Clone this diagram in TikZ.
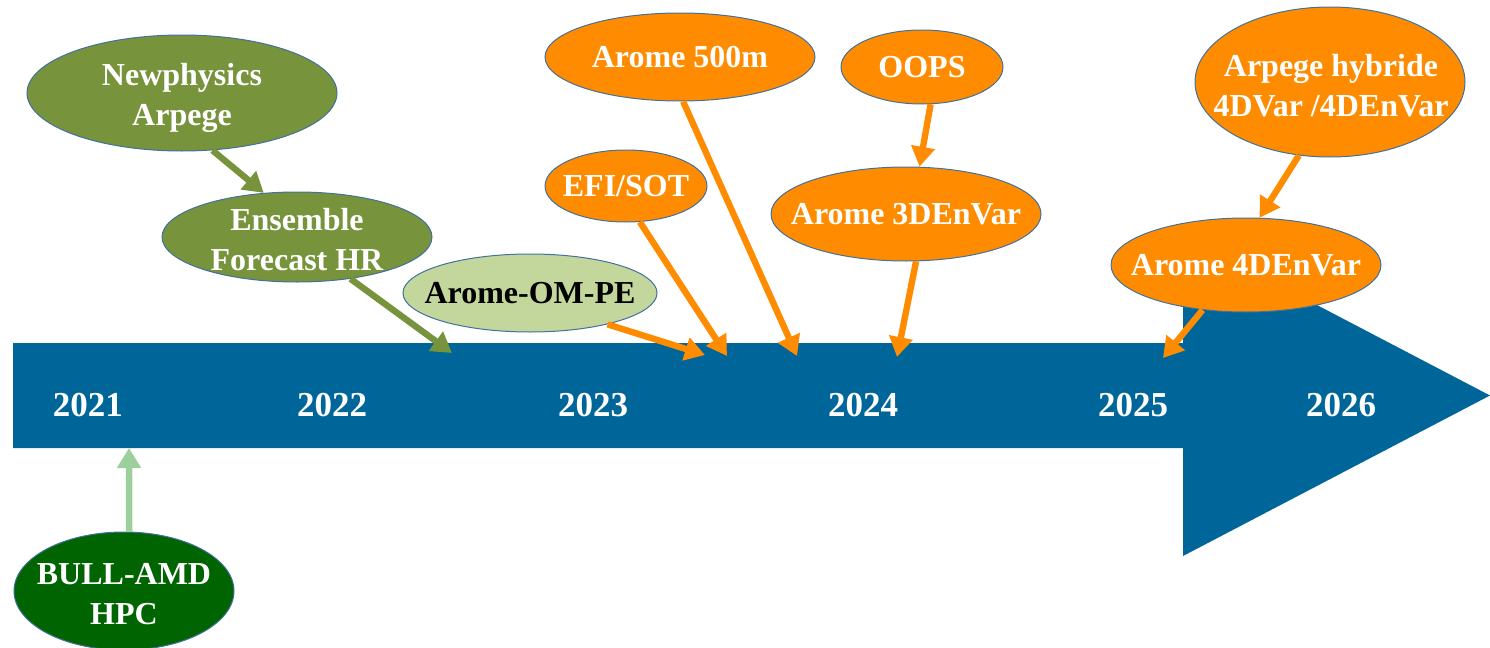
\documentclass[tikz,border=0pt]{standalone}
\usepackage{fontspec}
\setmainfont{Liberation Serif}
\usetikzlibrary{arrows.meta,shapes.geometric}
\definecolor{olive}{HTML}{77933C}
\definecolor{lightol}{HTML}{C3D69B}
\definecolor{dkgreen}{HTML}{006400}
\definecolor{orng}{HTML}{FF8C00}
\definecolor{barblue}{HTML}{006699}
\definecolor{bullarr}{HTML}{9DCF9D}
\definecolor{rim}{HTML}{41719C}
\tikzset{
  ell/.style={ellipse, draw=rim, line width=0.5pt, inner sep=0pt},
  txt/.style={align=center, inner sep=0pt,
    font=\fontsize{16}{20}\selectfont\bfseries, text=white},
  year/.style={font=\fontsize{17.5}{20}\selectfont\bfseries, text=white},
  conn/.style={line width=3.2pt, -{Triangle[length=10pt,width=11.5pt]}},
}
\begin{document}
\begin{tikzpicture}[x=0.5pt,y=-0.5pt]
\useasboundingbox (0,0) rectangle (1490,648);
% timeline bar
\fill[barblue] (13,343) -- (1183,343) -- (1183,235) -- (1490,395.5) -- (1183,556) -- (1183,448) -- (13,448) -- cycle;
% years
\node[year] (y21) at (88,405) {2021};
\node[year] (y22) at (332,405) {2022};
\node[year] (y23) at (593,405) {2023};
\node[year] (y24) at (863,405) {2024};
\node[year] (y25) at (1133,405) {2025};
\node[year] (y26) at (1341,405) {2026};
% ellipses
\node[ell, fill=olive, minimum width=155pt, minimum height=58pt] (np) at (182,93) {};
\node[txt] (npt) at (182,98) {Newphysics\\Arpege};
\node[ell, fill=olive, minimum width=135pt, minimum height=45pt] (ens) at (297,237) {};
\node[txt] (enst) at (297,240) {Ensemble\\Forecast HR};
\node[ell, fill=lightol, minimum width=127pt, minimum height=39pt] (om) at (530,293) {};
\node[txt, text=black] (omt) at (530,293) {Arome-OM-PE};
\node[ell, fill=orng, minimum width=135pt, minimum height=44pt] (a500) at (680,57) {};
\node[txt] (a500t) at (680,57) {Arome 500m};
\node[ell, fill=orng, minimum width=81pt, minimum height=36pt] (efi) at (626,186) {};
\node[txt] (efit) at (626,186) {EFI/SOT};
\node[ell, fill=orng, minimum width=81pt, minimum height=37pt] (oops) at (922,67) {};
\node[txt] (oopst) at (922,67) {OOPS};
\node[ell, fill=orng, minimum width=135pt, minimum height=47pt] (a3d) at (906,214) {};
\node[txt] (a3dt) at (906,214) {Arome 3DEnVar};
\node[ell, fill=orng, minimum width=135pt, minimum height=75pt] (hyb) at (1330,82) {};
\node[txt] (hybt) at (1331,86) {Arpege hybride\\4DVar /4DEnVar};
\node[ell, fill=orng, minimum width=135pt, minimum height=47pt] (a4d) at (1246,265) {};
\node[txt] (a4dt) at (1246,265) {Arome 4DEnVar};
\node[ell, fill=dkgreen, minimum width=110pt, minimum height=59pt] (bull) at (124,591) {};
\node[txt] (bullt) at (124,594) {BULL-AMD\\HPC};
% free ends on the bar
\coordinate (t1) at (452,353);
\coordinate (t2) at (705,355);
\coordinate (t3) at (727,356);
\coordinate (t4) at (797,356);
\coordinate (t5) at (897,357);
\coordinate (t6) at (1163,358);
\coordinate (t7) at (129,448);
% connectors
\draw[conn, olive] (np.-62) -- (ens.127);
\draw[conn, olive] (ens.-38) -- (t1);
\draw[conn, orng] (om.-22) -- (t2);
\draw[conn, orng] (efi.-69) -- (t3);
\draw[conn, orng] (a500.-86) -- (t4);
\draw[conn, orng] (oops.-77) -- (a3d.74);
\draw[conn, orng] (a3d.-78) -- (t5);
\draw[conn, orng] (hyb.-113) -- (a4d.74);
\draw[conn, orng] (a4d.-134) -- (t6);
\draw[conn, bullarr] (bull.85) -- (t7);
\end{tikzpicture}
\end{document}
